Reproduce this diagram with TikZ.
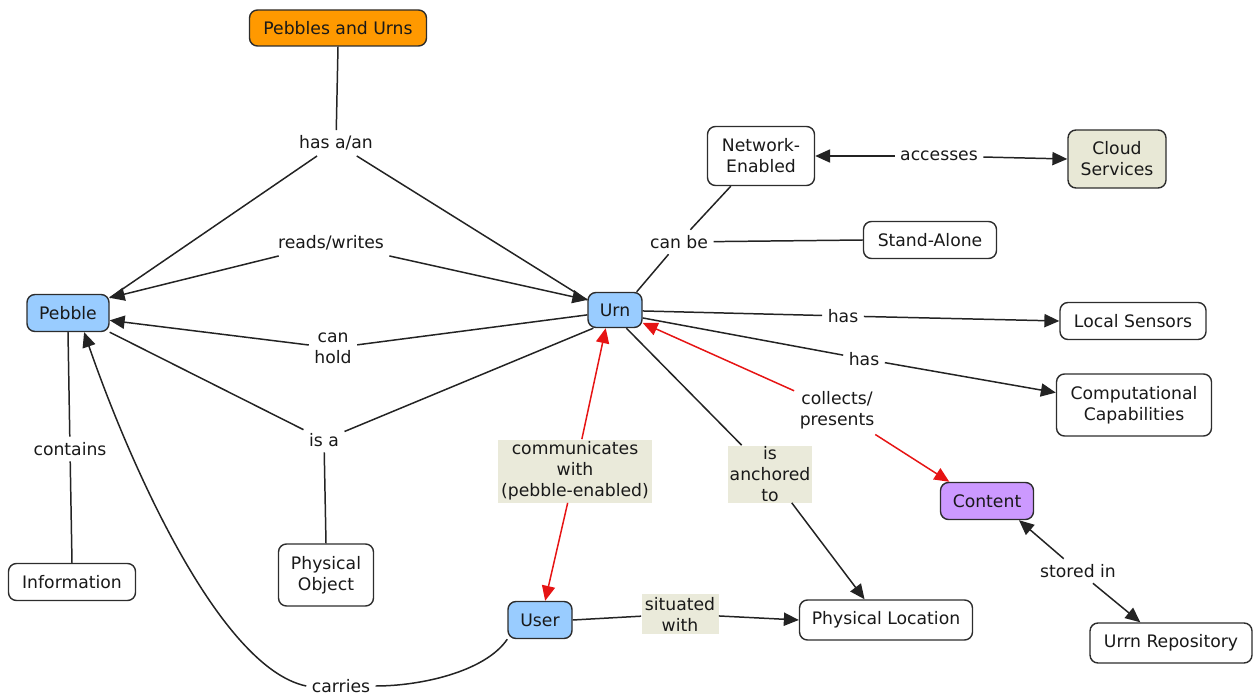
\documentclass[tikz,border=0pt]{standalone}
\usepackage{fontspec}
\setmainfont{DejaVu Sans}
\usetikzlibrary{arrows.meta,calc}

\definecolor{edgecol}{RGB}{35,35,35}
\definecolor{framecol}{RGB}{45,45,45}
\definecolor{textcol}{RGB}{25,25,25}
\definecolor{rootfill}{RGB}{255,153,0}
\definecolor{bluefill}{RGB}{153,204,255}
\definecolor{lilacfill}{RGB}{204,153,255}
\definecolor{sandfill}{RGB}{232,232,214}
\definecolor{tagfill}{RGB}{234,234,218}
\definecolor{redcol}{RGB}{230,20,20}

\begin{document}
\begin{tikzpicture}[x=0.02cm,y=-0.02cm,
  txt/.style={font=\fontsize{9.8}{12}\selectfont, text=textcol, align=center},
  concept/.style={txt, draw=framecol, line width=0.8pt, rounded corners=0.16cm, inner sep=0pt, fill=white},
  sz/.style 2 args={minimum width=#1*0.02cm, minimum height=#2*0.02cm},
  phrase/.style={txt, inner sep=3pt},
  tagged/.style={txt, fill=tagfill, inner sep=0pt},
  link/.style={draw=edgecol, line width=0.85pt},
  redlink/.style={draw=redcol, line width=0.85pt},
  head/.style={-{Triangle[length=8.5pt,width=7.5pt]}}
]
\useasboundingbox (0,0) rectangle (1253,695);

% concepts
\node[concept, fill=rootfill, sz={177}{36}] (root) at (338,28) {Pebbles and Urns};
\node[concept, fill=bluefill, sz={82}{37}] (pebble) at (68,313) {Pebble};
\node[concept, fill=bluefill, sz={54}{35}] (urn) at (615,310) {Urn};
\node[concept, sz={107}{59}] (net) at (761,156) {Network-\\Enabled};
\node[concept, fill=sandfill, sz={98}{58}] (cloud) at (1117,159) {Cloud\\Services};
\node[concept, sz={133}{37}] (stand) at (930,240) {Stand-Alone};
\node[concept, sz={146}{37}] (sensors) at (1133,321) {Local Sensors};
\node[concept, sz={155}{62}] (comp) at (1134,405) {Computational\\Capabilities};
\node[concept, fill=lilacfill, sz={93}{37}] (content) at (987,501) {Content};
\node[concept, sz={162}{40}] (repo) at (1171,643) {Urrn Repository};
\node[concept, sz={173}{40}] (ploc) at (886,620) {Physical Location};
\node[concept, fill=bluefill, sz={64}{37}] (user) at (540,620) {User};
\node[concept, sz={95}{62}] (pobj) at (326,575) {Physical\\Object};
\node[concept, sz={127}{37}] (info) at (72,582) {Information};

% linking phrases
\node[phrase] (hasa) at (336,143) {has a/an};
\node[phrase] (rw) at (331,243) {reads/writes};
\node[phrase] (canhold) at (333,348) {can\\hold};
\node[phrase] (isa) at (324,440) {is a};
\node[phrase] (contains) at (70,449) {contains};
\node[phrase] (carries) at (341,686) {carries};
\node[tagged, sz={154}{63}] (comm) at (575,471) {communicates\\with\\(pebble-enabled)};
\node[tagged, sz={84}{57}] (anch) at (770,474) {is\\anchored\\to};
\node[tagged, sz={77}{40}] (sit) at (680,614) {situated\\with};
\node[phrase] (canbe) at (679,242) {can be};
\node[phrase] (acc) at (939,156) {accesses};
\node[phrase] (has1) at (843,316) {has};
\node[phrase] (has2) at (864,359) {has};
\node[phrase] (coll) at (837,410) {collects/\\presents};
\node[phrase] (stored) at (1078,571) {stored in};

% connectors
\draw[link] (root.south) -- (hasa);
\draw[link] (hasa) -- (pebble.20);
\draw[link] (hasa) -- (urn.160);

\draw[link, head] (rw) -- (pebble.20);
\draw[link, head] (rw) -- (urn.160);

\draw[link] (urn.190) -- (canhold);
\draw[link, head] (canhold) -- (pebble.-10);

\draw[link] (urn.220) -- (isa);
\draw[link] (pebble.south east) -- (isa);
\draw[link] (isa) -- (pobj.north);

\draw[link] (pebble.south) -- (contains);
\draw[link] (contains) -- (info.north);

\draw[link] (user.south west) .. controls (485,672) and (420,686) .. (carries.east);
\draw[link, head] (carries.west) .. controls (220,668) and (130,465) .. (pebble.-50);

\draw[redlink, head] (comm) -- (urn.243);
\draw[redlink, head] (comm) -- (user.75);

\draw[link] (urn.-58) -- (anch);
\draw[link, head] (anch) -- (ploc.136);

\draw[link] (user.east) -- (sit);
\draw[link, head] (sit) -- (ploc.west);

\draw[link] (urn.40) -- (canbe);
\draw[link] (canbe) -- (net.225);
\draw[link] (canbe) -- (stand.west);

\draw[link, head] (acc) -- (net.east);
\draw[link, head] (acc) -- (cloud.west);

\draw[link] (urn.-2) -- (has1);
\draw[link, head] (has1) -- (sensors.west);
\draw[link] (urn.-16) -- (has2);
\draw[link, head] (has2) -- (comp.171);

\draw[redlink, head] (coll) -- (urn.-25);
\draw[redlink, head] (coll) -- (content.153);

\draw[link, head] (stored) -- (content.-31);
\draw[link, head] (stored) -- (repo.146);
\end{tikzpicture}
\end{document}
